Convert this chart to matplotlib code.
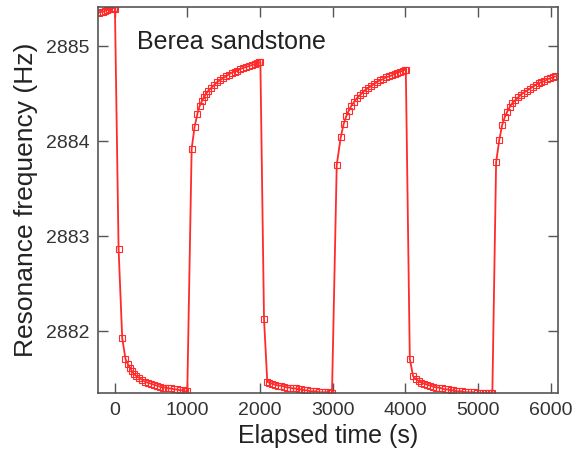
import matplotlib
matplotlib.use("Agg")
import matplotlib.pyplot as plt

plt.rcParams['font.family'] = ['Liberation Sans', 'DejaVu Sans']

# elapsed time (s) and resonance frequency (Hz)
time_s = [
    -220, -190, -160, -130, -100, -70, -40, -10, 5,
    55, 105, 150, 180, 210, 240, 270, 300, 340, 380, 420, 460, 500, 540,
    580, 620, 660, 700, 740, 780, 820, 860, 900, 940, 970, 1000,
    1060, 1100, 1140, 1170, 1200, 1230, 1260, 1290, 1330, 1370, 1410, 1450,
    1490, 1530, 1570, 1610, 1650, 1690, 1730, 1770, 1810, 1850, 1890, 1930,
    1960, 1990, 2005,
    2055, 2100, 2130, 2170, 2210, 2250, 2290, 2330, 2370, 2410, 2450, 2490,
    2530, 2570, 2610, 2650, 2690, 2730, 2770, 2810, 2850, 2890, 2930, 2960,
    2990,
    3055, 3110, 3150, 3185, 3220, 3255, 3290, 3330, 3370, 3410, 3450, 3490,
    3530, 3570, 3610, 3650, 3690, 3730, 3770, 3810, 3850, 3890, 3930, 3960,
    3990, 4005,
    4060, 4105, 4140, 4180, 4220, 4260, 4300, 4340, 4380, 4420, 4460, 4500,
    4540, 4580, 4620, 4660, 4700, 4740, 4780, 4820, 4860, 4900, 4940, 4980,
    5020, 5060, 5100, 5140, 5170, 5195,
    5247, 5290, 5330, 5365, 5400, 5435, 5470, 5510, 5550, 5590, 5630, 5670,
    5710, 5750, 5790, 5830, 5870, 5910, 5950, 5990, 6025, 6055,
]
freq_hz = [
    2885.35, 2885.36, 2885.36, 2885.37, 2885.38, 2885.39, 2885.40, 2885.40,
    2885.39,
    2882.87, 2881.93, 2881.71, 2881.66, 2881.62, 2881.58, 2881.55, 2881.53,
    2881.51, 2881.49, 2881.47, 2881.46, 2881.45, 2881.44, 2881.43, 2881.42,
    2881.41, 2881.41, 2881.40, 2881.40, 2881.39, 2881.39, 2881.38, 2881.38,
    2881.37, 2881.37,
    2883.92, 2884.15, 2884.29, 2884.37, 2884.42, 2884.46, 2884.50, 2884.53,
    2884.56, 2884.59, 2884.62, 2884.64, 2884.66, 2884.68, 2884.70, 2884.72,
    2884.73, 2884.74, 2884.76, 2884.77, 2884.78, 2884.79, 2884.80, 2884.81,
    2884.82, 2884.83, 2884.83,
    2882.13, 2881.47, 2881.46, 2881.45, 2881.44, 2881.43, 2881.43, 2881.42,
    2881.41, 2881.41, 2881.40, 2881.40, 2881.39, 2881.39, 2881.38, 2881.38,
    2881.37, 2881.37, 2881.37, 2881.36, 2881.36, 2881.36, 2881.36, 2881.35,
    2881.35,
    2883.75, 2884.04, 2884.18, 2884.26, 2884.32, 2884.37, 2884.41, 2884.45,
    2884.48, 2884.51, 2884.54, 2884.56, 2884.58, 2884.60, 2884.62, 2884.64,
    2884.65, 2884.67, 2884.68, 2884.69, 2884.71, 2884.72, 2884.73, 2884.74,
    2884.75, 2884.75,
    2881.71, 2881.53, 2881.50, 2881.48, 2881.46, 2881.45, 2881.44, 2881.43,
    2881.42, 2881.41, 2881.41, 2881.40, 2881.39, 2881.39, 2881.38, 2881.38,
    2881.37, 2881.37, 2881.37, 2881.36, 2881.36, 2881.36, 2881.36, 2881.35,
    2881.35, 2881.35, 2881.35, 2881.35, 2881.35, 2881.35,
    2883.78, 2884.01, 2884.17, 2884.25, 2884.31, 2884.36, 2884.40, 2884.43,
    2884.46, 2884.49, 2884.51, 2884.53, 2884.55, 2884.57, 2884.59, 2884.61,
    2884.62, 2884.63, 2884.65, 2884.66, 2884.67, 2884.68,
]

x_ticks = [0, 1000, 2000, 3000, 4000, 5000, 6000]
y_ticks = [2882, 2883, 2884, 2885]

fig = plt.figure(figsize=(5.79, 4.67), dpi=100)
ax = fig.add_axes([0.169, 0.158, 0.795, 0.827])

red = '#ff2a2a'
ax.plot(time_s, freq_hz, color=red, lw=1.3, marker='s', ms=4.5,
        mfc='none', mec=red, mew=0.8)

ax.set_xlim(-230, 6100)
ax.set_ylim(2881.35, 2885.41)
ax.set_xticks(x_ticks)
ax.set_yticks(y_ticks)
ax.tick_params(direction='in', top=True, right=True, length=7, width=1,
               color='#555555', labelsize=14, labelcolor='#333333', pad=6)
for s in ax.spines.values():
    s.set_color('#555555')
    s.set_linewidth(1.2)

ax.set_xlabel('Elapsed time (s)', fontsize=18, color='#222222', labelpad=4)
ax.set_ylabel('Resonance frequency (Hz)', fontsize=19, color='#222222', labelpad=6)
ax.text(0.085, 0.909, 'Berea sandstone', transform=ax.transAxes,
        fontsize=18, color='#222222', va='center', ha='left')

fig.savefig('out.png', dpi=100)
